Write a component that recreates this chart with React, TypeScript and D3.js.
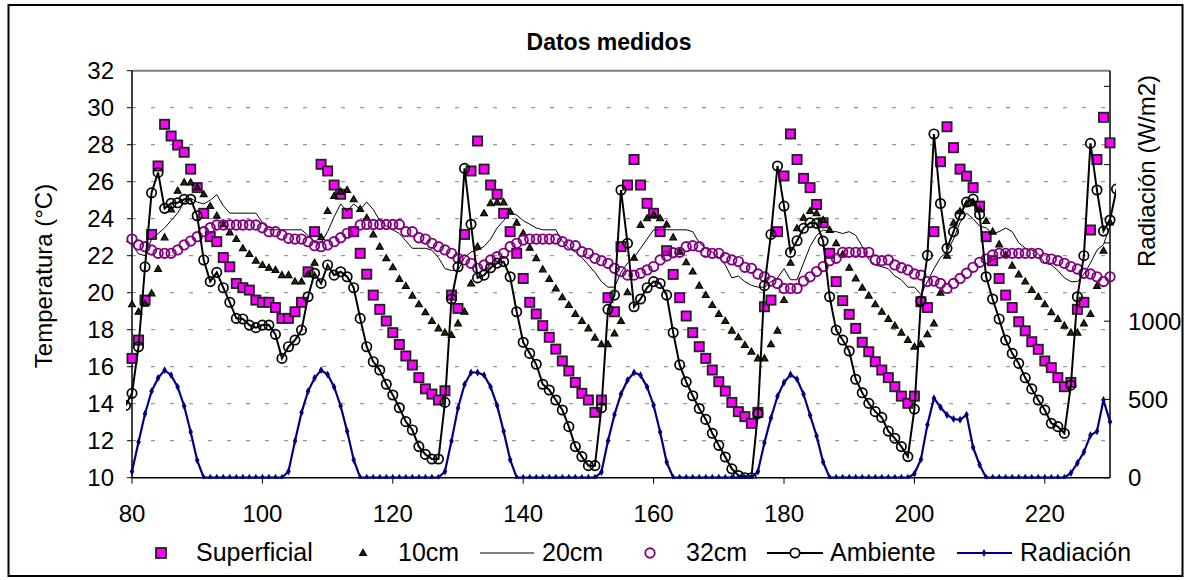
import React from "react";
import * as d3 from "d3";

// ---------- data (hourly, x = 80..230) ----------
const X_START = 80;
const X_END = 230;
const xTicks = [80, 100, 120, 140, 160, 180, 200, 220];
const yTicks = [10, 12, 14, 16, 18, 20, 22, 24, 26, 28, 30, 32];
const yGrid = [12, 14, 16, 18, 20, 22, 24, 26, 28, 30];
const rTicks = [0, 500, 1000, 1500, 2000, 2500];
const rTickLabels = [0, 500, 1000];

const superficial = [
  16.45, 17.44, 19.6, 23.15, 26.85, 29.1, 28.47, 27.98, 27.59, 26.68,
  25.68, 24.29, 23.03, 22.76, 21.9, 21.4, 20.5, 20.27, 20.14, 19.6,
  19.48, 19.48, 19.2, 18.61, 18.61, 18.97, 19.48, 21.13, 23.3, 26.94,
  26.58, 25.82, 25.32, 24.29, 23.3, 22.13, 21.0, 19.87, 19.1, 18.47,
  17.84, 17.2, 16.58, 16.09, 15.41, 14.8, 14.52, 14.2, 14.7, 19.87,
  19.15, 23.15, 26.58, 28.2, 26.68, 25.82, 25.32, 24.29, 23.3, 22.13,
  20.77, 19.48, 18.85, 18.22, 17.59, 16.95, 16.31, 15.77, 15.15, 14.56,
  14.2, 13.53, 14.2, 19.73, 18.97, 22.49, 25.82, 27.2, 25.82, 24.83,
  24.29, 23.3, 22.27, 20.99, 19.73, 18.74, 17.84, 17.08, 16.45, 15.82,
  15.19, 14.68, 14.07, 13.57, 13.3, 12.94, 13.53, 19.24, 19.6, 23.3,
  26.31, 28.58, 27.2, 26.18, 25.68, 24.77, 23.78, 22.13, 20.6, 19.57,
  18.83, 18.07, 17.32, 16.81, 16.27, 15.82, 15.41, 14.92, 14.41, 14.02,
  14.41, 19.51, 19.2, 23.3, 27.08, 28.97, 27.84, 26.68, 26.3, 25.68,
  24.68, 23.03, 21.73, 20.77, 19.87, 19.2, 18.43, 17.94, 17.35, 16.94,
  16.31, 15.95, 15.41, 14.92, 15.15, 19.1, 19.48, 23.39, 27.2, 29.48,
  28.1,
];

const cm10 = [
  19.37, 18.97, 19.4, 19.96, 21.28, 22.99, 24.5, 25.51, 25.96, 25.96,
  25.69, 25.32, 24.68, 24.16, 23.7, 23.26, 22.9, 22.4, 22.09, 21.73,
  21.5, 21.35, 21.23, 20.95, 20.95, 20.6, 20.6, 21.0, 21.62, 23.0,
  24.41, 25.23, 25.46, 25.55, 25.05, 24.52, 24.05, 23.15, 22.49, 21.86,
  21.37, 20.74, 20.36, 19.84, 19.37, 18.94, 18.47, 18.07, 17.84, 17.71,
  18.34, 18.97, 20.5, 22.49, 24.29, 24.83, 24.88, 24.88, 24.38, 23.78,
  23.21, 22.43, 21.86, 21.26, 20.74, 20.23, 19.75, 19.33, 18.85, 18.47,
  18.07, 17.57, 17.21, 17.21, 17.8, 18.47, 20.02, 21.89, 23.66, 24.02,
  24.23, 24.02, 23.69, 22.99, 22.22, 21.64, 21.14, 20.38, 19.87, 19.33,
  18.85, 18.47, 17.95, 17.59, 17.17, 16.81, 16.45, 16.45, 17.21, 17.95,
  19.6, 21.62, 23.48, 24.05, 24.41, 24.29, 23.93, 23.39, 22.67, 22.07,
  21.35, 20.77, 20.27, 19.84, 19.37, 18.97, 18.58, 18.22, 17.84, 17.44,
  17.08, 17.21, 17.75, 18.34, 20.0, 22.0, 23.78, 24.4, 24.8, 24.83,
  24.5, 23.87, 23.3, 22.61, 22.04, 21.46, 20.99, 20.6, 20.14, 19.78,
  19.37, 18.94, 18.58, 18.22, 17.84, 17.84, 18.34, 18.85, 20.36, 22.27,
  23.8,
];

// 20cm line starts one hour before the axis (x = 79)
const CM20_START = 79;
const cm20 = [
  22.8,
  22.6, 22.1, 22.0, 22.9, 23.2, 23.5, 23.9, 24.3, 24.9, 25.1,
  24.9, 24.8, 25.0, 25.3, 24.7, 24.3, 24.3, 24.3, 24.3, 24.3,
  23.8, 23.4, 23.4, 23.4, 23.4, 23.4, 23.4, 23.1, 22.7, 22.7,
  23.3, 24.1, 24.8, 24.4, 24.8, 24.5, 24.9, 24.5, 23.9, 23.6,
  23.4, 23.2, 22.8, 22.4, 22.4, 22.4, 22.3, 21.9, 21.3, 21.2,
  21.2, 21.9, 22.2, 22.3, 22.5, 22.9, 23.5, 23.9, 24.3, 24.2,
  23.9, 23.7, 23.5, 23.4, 23.4, 23.4, 22.8, 22.4, 22.2, 21.9,
  21.5, 21.1, 20.6, 20.3, 20.3, 21.1, 21.6, 21.9, 22.4, 22.9,
  23.4, 23.4, 23.4, 23.4, 23.4, 23.4, 23.3, 22.7, 22.4, 22.2,
  21.9, 21.5, 20.8, 20.9, 20.6, 20.4, 20.3, 20.3, 20.6, 20.8,
  21.3, 20.7, 20.7, 21.6, 22.5, 23.1, 23.4, 23.3, 23.3, 23.2,
  23.3, 23.1, 22.5, 21.8, 21.5, 21.4, 21.3, 20.9, 20.7, 20.3,
  20.3, 19.9, 20.6, 21.3, 21.9, 22.2, 22.9, 23.8, 24.3, 24.0,
  23.6, 23.5, 23.2, 23.3, 23.5, 23.3, 22.7, 22.4, 22.3, 22.1,
  21.6, 21.5, 21.2, 20.8, 20.6, 20.6, 21.0, 21.6, 22.3, 22.6,
  23.6,
];

const cm32 = [
  22.9, 22.58, 22.49, 22.31, 22.13, 22.13, 22.13, 22.31, 22.58, 22.79,
  23.03, 23.3, 23.51, 23.66, 23.66, 23.66, 23.66, 23.66, 23.66, 23.66,
  23.51, 23.3, 23.3, 23.12, 22.94, 22.9, 22.9, 22.76, 22.54, 22.49,
  22.58, 22.76, 22.97, 23.21, 23.3, 23.66, 23.69, 23.69, 23.69, 23.69,
  23.69, 23.69, 23.3, 23.3, 22.97, 22.9, 22.67, 22.49, 22.31, 22.13,
  21.86, 21.77, 21.59, 21.32, 21.5, 21.77, 21.95, 22.13, 22.49, 22.67,
  22.85, 22.9, 22.9, 22.9, 22.9, 22.9, 22.76, 22.58, 22.54, 22.22,
  22.13, 21.86, 21.73, 21.59, 21.32, 21.14, 20.95, 20.95, 21.05, 21.23,
  21.41, 21.77, 21.98, 22.16, 22.18, 22.49, 22.54, 22.49, 22.18, 22.13,
  22.13, 21.89, 21.77, 21.68, 21.37, 21.32, 21.01, 20.86, 20.63, 20.5,
  20.23, 20.23, 20.23, 20.63, 20.86, 21.14, 21.41, 21.73, 21.86, 22.18,
  22.18, 22.18, 22.18, 22.18, 21.77, 21.73, 21.77, 21.5, 21.35, 21.23,
  21.01, 20.95, 20.6, 20.63, 20.5, 20.23, 20.5, 20.77, 21.05, 21.37,
  21.64, 21.82, 22.04, 22.13, 22.13, 22.13, 22.13, 22.13, 22.13, 22.13,
  21.86, 21.82, 21.73, 21.59, 21.41, 21.28, 21.05, 21.01, 20.86, 20.6,
  20.86,
];

// Ambiente line runs from x = 79 to x = 231 (stubs outside the axis)
const AMB_START = 79;
const ambiente = [
  13.9,
  14.56, 17.08, 21.4, 25.4, 26.5, 24.56, 24.83, 24.86, 25.05, 25.05,
  24.16, 21.77, 20.6, 21.1, 20.27, 19.48, 18.61, 18.58, 18.25, 18.11,
  18.25, 18.25, 17.75, 16.45, 17.08, 17.44, 17.98, 19.78, 21.05, 20.5,
  21.5, 20.95, 21.13, 20.86, 20.27, 18.61, 17.08, 16.27, 15.82, 15.05,
  14.47, 13.78, 13.03, 12.58, 11.68, 11.26, 11.01, 11.01, 14.07, 19.66,
  21.4, 26.72, 23.7, 20.8, 20.95, 21.35, 21.6, 21.68, 20.86, 18.97,
  17.32, 16.72, 16.13, 15.05, 14.74, 14.2, 13.66, 12.76, 11.68, 11.14,
  10.65, 10.65, 13.78, 19.1, 19.87, 25.55, 22.67, 19.24, 19.66, 20.27,
  20.6, 20.5, 19.87, 17.85, 16.1, 15.18, 14.43, 13.74, 13.15, 12.4,
  11.75, 11.12, 10.48, 10.12, 10.0, 10.0, 13.47, 20.38, 23.15, 26.85,
  24.68, 22.18, 22.81, 23.48, 23.78, 23.75, 22.79, 19.78, 17.98, 17.44,
  16.85, 15.32, 14.59, 14.02, 13.57, 13.26, 12.52, 12.13, 11.68, 11.14,
  13.71, 19.55, 22.02, 28.58, 24.82, 22.4, 23.3, 24.2, 24.9, 25.06,
  24.23, 20.86, 19.66, 18.58, 17.44, 16.72, 16.18, 15.4, 14.8, 14.2,
  13.66, 12.94, 12.76, 12.4, 15.0, 19.78, 22.0, 28.07, 25.55, 23.33,
  23.93,
  25.6,
];

const radiacion = [
  40, 228, 409, 552, 637, 687, 655, 580, 458, 292,
  111, 0, 0, 0, 0, 0, 0, 0, 0, 0,
  0, 0, 0, 0, 40, 235, 416, 552, 637, 687,
  659, 580, 458, 296, 115, 0, 0, 0, 0, 0,
  0, 0, 0, 0, 0, 0, 0, 0, 40, 235,
  446, 595, 672, 672, 655, 580, 462, 296, 115, 0,
  0, 0, 0, 0, 0, 0, 0, 0, 0, 0,
  0, 0, 36, 235, 403, 535, 623, 672, 655, 580,
  463, 292, 100, 0, 0, 0, 0, 0, 0, 0,
  0, 0, 0, 0, 0, 0, 40, 224, 382, 520,
  608, 659, 629, 533, 399, 267, 100, 0, 0, 0,
  0, 0, 0, 0, 0, 0, 0, 0, 0, 0,
  26, 117, 339, 508, 450, 401, 375, 370, 402, 194,
  83, 0, 0, 0, 0, 0, 0, 0, 0, 0,
  0, 0, 0, 0, 30, 94, 164, 271, 296, 496,
  357,
];

const legendItems = ["Superficial", "10cm", "20cm", "32cm", "Ambiente", "Radiación"];

// ---------- layout ----------
const W = 1191;
const H = 580;
const PL = 132;
const PR = 1110;
const PT = 70.7;
const PB = 477.7;
const FONT = "'Liberation Sans', Arial, Helvetica, sans-serif";

const MAGENTA = "#FF00FF";
const PURPLE = "#800080";
const NAVY = "#000080";
const TRI_FILL = "#2a2a00";

export default function App() {
  const x = d3.scaleLinear().domain([X_START, X_END]).range([PL, PR]);
  const y = d3.scaleLinear().domain([10, 32]).range([PB, PT]);
  const yR = d3.scaleLinear().domain([0, 2600]).range([PB, PT]);

  const pts = (arr: number[], start: number, sc: (v: number) => number) =>
    arr.map((v, i) => ({ cx: x(start + i), cy: sc(v) }));

  const supPts = pts(superficial, X_START, y);
  const c10Pts = pts(cm10, X_START, y);
  const c32Pts = pts(cm32, X_START, y);
  const ambPts = pts(ambiente, AMB_START, y);
  const radPts = pts(radiacion, X_START, yR);

  const lineGen = d3
    .line<{ cx: number; cy: number }>()
    .x((d) => d.cx)
    .y((d) => d.cy);

  const c20Path = lineGen(pts(cm20, CM20_START, y)) || "";
  const ambPath = lineGen(ambPts) || "";
  const radPath = lineGen(radPts) || "";

  const diamond = d3.symbol(d3.symbolDiamond, 18)() || "";
  const tri = (cx: number, cy: number) =>
    `${cx},${cy - 3.6} ${cx + 3.4},${cy + 2.4} ${cx - 3.4},${cy + 2.4}`;

  // legend positions
  const LY = 553;
  const LT = 561;

  return (
    <svg
      width={W}
      height={H}
      style={{ position: "absolute", left: 0, top: 0, background: "#fff" }}
      fontFamily={FONT}
    >
      <defs>
        <clipPath id="plotClip">
          <rect x={PL - 6} y={PT} width={PR - PL + 12} height={PB - PT + 1} />
        </clipPath>
      </defs>
      <rect x={0} y={0} width={W} height={H} fill="#fff" />
      <rect x={8.5} y={5} width={1174} height={571} fill="none" stroke="#000" strokeWidth={2} />

      {/* title */}
      <text x={609} y={50} textAnchor="middle" fontSize={23} fontWeight="bold" fill="#000">
        Datos medidos
      </text>

      {/* gridlines */}
      {yGrid.map((t) => (
        <line
          key={"g" + t}
          x1={PL}
          x2={PR}
          y1={y(t)}
          y2={y(t)}
          stroke="#808080"
          strokeWidth={1}
          strokeDasharray="4 15"
        />
      ))}

      {/* plot frame */}
      <line x1={PL} x2={PR} y1={PT} y2={PT} stroke="#808080" strokeWidth={2} />
      <line x1={PL} x2={PL} y1={PT} y2={PB} stroke="#000" strokeWidth={1.5} />
      <line x1={PR} x2={PR} y1={PT} y2={PB} stroke="#000" strokeWidth={1.5} />
      <line x1={PL} x2={PR} y1={PB} y2={PB} stroke="#000" strokeWidth={1.5} />

      {/* left axis */}
      {yTicks.map((t) => (
        <g key={"yl" + t}>
          <line x1={PL - 5} x2={PL} y1={y(t)} y2={y(t)} stroke="#000" />
          <text x={114} y={y(t) + 8.5} textAnchor="end" fontSize={24} fill="#000">
            {t}
          </text>
        </g>
      ))}

      {/* bottom axis */}
      {xTicks.map((t) => (
        <g key={"xl" + t}>
          <line x1={x(t)} x2={x(t)} y1={PB} y2={PB + 6} stroke="#000" />
          <text x={x(t)} y={522} textAnchor="middle" fontSize={24} fill="#000">
            {t}
          </text>
        </g>
      ))}

      {/* right axis */}
      {rTicks.map((t) => (
        <line key={"rt" + t} x1={PR - 6} x2={PR} y1={yR(t)} y2={yR(t)} stroke="#000" />
      ))}
      {rTickLabels.map((t) => (
        <text key={"rl" + t} x={1128} y={yR(t) + 8.5} textAnchor="start" fontSize={24} fill="#000">
          {t}
        </text>
      ))}

      {/* axis titles */}
      <text
        transform={`translate(52, 276) rotate(-90)`}
        textAnchor="middle"
        fontSize={24}
        fill="#000"
      >
        Temperatura (°C)
      </text>
      <text
        transform={`translate(1155, 171) rotate(-90)`}
        textAnchor="middle"
        fontSize={24}
        fill="#000"
      >
        Radiación (W/m2)
      </text>

      <g clipPath="url(#plotClip)">
        {/* Superficial */}
        {supPts.map((p, i) => (
          <rect
            key={"s" + i}
            x={p.cx - 4.6}
            y={p.cy - 4.6}
            width={9.2}
            height={9.2}
            fill={MAGENTA}
            stroke="#222"
            strokeWidth={1.8}
          />
        ))}
        {/* 10cm */}
        {c10Pts.map((p, i) => (
          <polygon key={"t" + i} points={tri(p.cx, p.cy)} fill={TRI_FILL} stroke="#000" strokeWidth={1.2} />
        ))}
        {/* 20cm */}
        <path d={c20Path} fill="none" stroke="#000" strokeWidth={1} />
        {/* 32cm */}
        {c32Pts.map((p, i) => (
          <circle key={"c" + i} cx={p.cx} cy={p.cy} r={4.7} fill="none" stroke={PURPLE} strokeWidth={1.9} />
        ))}
        {/* Ambiente */}
        <path d={ambPath} fill="none" stroke="#000" strokeWidth={2} />
        {ambPts.map((p, i) => (
          <circle key={"a" + i} cx={p.cx} cy={p.cy} r={4.7} fill="none" stroke="#000" strokeWidth={1.7} />
        ))}
        {/* Radiación */}
        <path d={radPath} fill="none" stroke={NAVY} strokeWidth={2.2} />
        {radPts.map((p, i) => (
          <path key={"r" + i} d={diamond} transform={`translate(${p.cx},${p.cy})`} fill={NAVY} />
        ))}
      </g>

      {/* legend */}
      <g fontSize={25} fill="#000">
        <rect x={156} y={LY - 5} width={10} height={10} fill={MAGENTA} stroke="#222" strokeWidth={1.8} />
        <text x={196} y={LT}>{legendItems[0]}</text>

        <polygon points={tri(363, LY)} fill={TRI_FILL} stroke="#000" strokeWidth={1.2} />
        <text x={398} y={LT}>{legendItems[1]}</text>

        <line x1={480} x2={534} y1={LY} y2={LY} stroke="#000" strokeWidth={1} />
        <text x={542} y={LT}>{legendItems[2]}</text>

        <circle cx={650} cy={LY} r={4.7} fill="none" stroke={PURPLE} strokeWidth={1.9} />
        <text x={686} y={LT}>{legendItems[3]}</text>

        <line x1={767} x2={823} y1={LY} y2={LY} stroke="#000" strokeWidth={2} />
        <circle cx={795} cy={LY} r={4.7} fill="#fff" stroke="#000" strokeWidth={1.7} />
        <text x={830} y={LT}>{legendItems[4]}</text>

        <line x1={957} x2={1012} y1={LY} y2={LY} stroke={NAVY} strokeWidth={2.2} />
        <path d={diamond} transform={`translate(984,${LY})`} fill={NAVY} />
        <text x={1020} y={LT}>{legendItems[5]}</text>
      </g>
    </svg>
  );
}
